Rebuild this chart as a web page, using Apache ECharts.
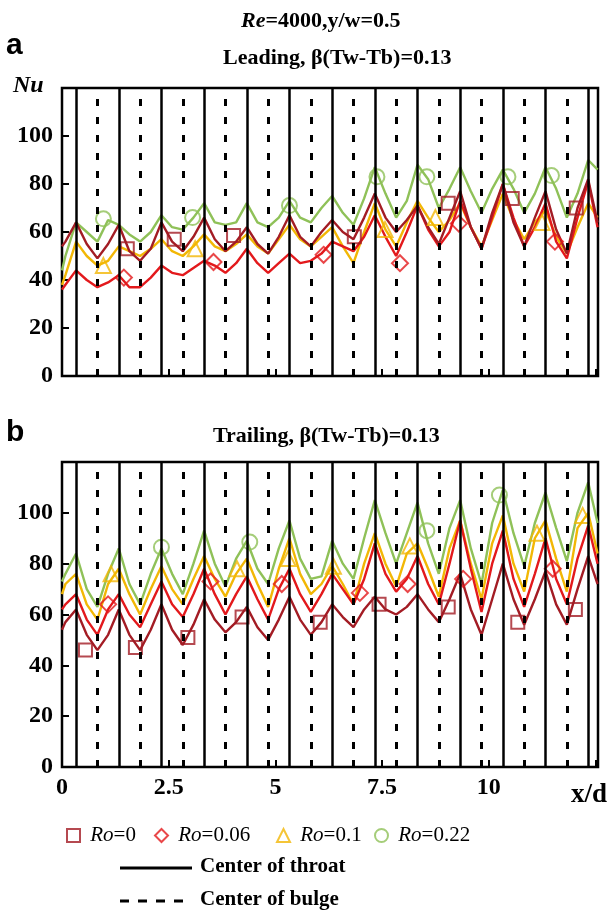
<!DOCTYPE html>
<html><head><meta charset="utf-8">
<script src="https://cdn.jsdelivr.net/npm/echarts@6/dist/echarts.min.js"></script>
<style>html,body{margin:0;padding:0;background:#fff}#c{width:609px;height:916px}</style>
</head><body><div id="c"></div>
<script>
// ---------- DATA ----------
const xPos = [0,0.08,0.33,0.58,0.83,1.08,1.33,1.58,1.83,2.08,2.33,2.58,2.83,3.08,3.33,3.58,3.83,4.08,4.33,4.58,4.83,5.08,5.33,5.58,5.83,6.08,6.33,6.58,6.83,7.08,7.33,7.58,7.83,8.08,8.33,8.58,8.83,9.08,9.33,9.58,9.83,10.08,10.33,10.58,10.83,11.08,11.33,11.58,11.83,12.08,12.33,12.55];

const leadingRo0   = [54,56, 64,55,49,55, 63,52,48,53, 64,56,52,58, 66,57,52,56, 62,55,51,58, 67,58,54,60, 65,60,57,66, 76,66,60,65, 71,62,55,66, 77,62,53,68, 80,64,54,66, 77,61,51,70, 82,64];
const leadingRo006 = [36,38, 44,40,37,39, 42,37,37,41, 46,43,42,45, 48,46,43,47, 53,47,43,47, 51,47,48,51, 56,54,52,58, 67,58,50,60, 71,61,54,60, 73,62,53,66, 80,66,54,62, 72,56,49,66, 81,62];
const leadingRo01  = [38,42, 56,50,46,48, 54,52,50,53, 57,52,50,54, 59,54,52,55, 59,54,51,57, 63,57,54,58, 62,54,47,60, 72,61,54,64, 73,66,60,65, 72,62,54,65, 76,65,57,64, 69,58,51,62, 72,66];
const leadingRo022 = [44,50, 64,60,56,65, 63,59,56,60, 67,62,61,66, 72,64,63,64, 72,64,62,66, 73,66,64,70, 75,68,63,74, 87,76,66,73, 88,82,70,78, 87,77,68,78, 86,78,68,76, 87,78,66,76, 90,86];

const trailingRo0   = [54,57, 62,52,46,52, 62,52,46,54, 64,54,48,56, 66,58,53,57, 63,55,50,58, 67,58,52,57, 64,59,55,62, 67,62,60,63, 68,62,57,66, 76,62,52,66, 80,66,56,66, 77,64,56,70, 83,72];
const trailingRo006 = [62,64, 68,58,52,62, 68,60,55,64, 73,64,59,68, 78,68,60,68, 75,66,58,70, 78,68,61,68, 76,70,64,74, 88,76,69,74, 83,72,64,80, 97,78,61,80, 93,74,63,76, 90,74,64,82, 95,80];
const trailingRo01  = [68,72, 76,64,58,72, 78,68,60,70, 79,70,64,74, 83,74,67,76, 82,72,63,78, 90,76,68,72, 79,72,64,80, 92,80,71,84, 88,78,67,86, 97,80,66,88, 99,80,69,90, 97,82,69,94, 100,84];
const trailingRo022 = [73,76, 84,70,63,76, 86,72,64,76, 86,76,68,80, 93,80,71,82, 89,78,72,86, 97,82,74,75, 89,80,74,90, 105,92,80,92, 104,88,76,94, 105,86,72,96, 109,92,79,96, 108,94,81,100, 112,96];

// sparse symbols
const leadingRo0MarkX   = [1.53, 2.63, 4.02, 6.85, 9.05, 10.55, 12.05];
const leadingRo0MarkY   = [53, 57, 58.5, 58, 72, 74, 70];
const leadingRo006MarkX = [1.45, 3.55, 6.13, 7.92, 9.3, 11.55];
const leadingRo006MarkY = [41, 47.5, 50.5, 47, 63.5, 56];
const leadingRo01MarkX  = [0.97, 3.12, 7.57, 8.75, 11.25];
const leadingRo01MarkY  = [46, 53, 61, 66, 64];
const leadingRo022MarkX = [0.97, 3.06, 5.33, 7.38, 8.55, 10.45, 11.47];
const leadingRo022MarkY = [65.5, 66, 71, 83, 83, 83, 83.5];

const trailingRo0MarkX   = [0.55, 1.72, 2.95, 4.22, 6.05, 7.43, 9.05, 10.68, 12.03];
const trailingRo0MarkY   = [46, 47, 51, 59, 57, 64, 63, 57, 62];
const trailingRo006MarkX = [1.08, 3.48, 5.15, 6.98, 8.1, 9.4, 11.5];
const trailingRo006MarkY = [64, 73, 72, 68.5, 72, 74, 78];
const trailingRo01MarkX  = [1.15, 4.1, 5.3, 6.36, 8.15, 11.13, 12.2];
const trailingRo01MarkY  = [76, 78, 82, 79, 87, 92, 99];
const trailingRo022MarkX = [2.33, 4.4, 8.55, 10.25];
const trailingRo022MarkY = [86.5, 88.5, 93, 107];

const throatX = [0.33,1.33,2.33,3.33,4.33,5.33,6.33,7.33,8.33,9.33,10.33,11.33,12.33];
const bulgeX  = [0.83,1.83,2.83,3.83,4.83,5.83,6.83,7.83,8.83,9.83,10.83,11.83];

const xTickLabels = [0, 2.5, 5, 7.5, 10];
const yTickLabels = [0, 20, 40, 60, 80, 100];
const roNames = ['Ro=0','Ro=0.06','Ro=0.1','Ro=0.22'];

// ---------- STYLE ----------
const serif = '"Liberation Serif","Times New Roman",serif';
const roColors = ['#a31c24','#e3191c','#f2b705','#8fc158'];
const roSymbols = ['rect','diamond','triangle','circle'];
const roSymbolSizes = [13,16,15,15];

const leadingLines  = [leadingRo0, leadingRo006, leadingRo01, leadingRo022];
const trailingLines = [trailingRo0, trailingRo006, trailingRo01, trailingRo022];
const leadingMarks  = [[leadingRo0MarkX,leadingRo0MarkY],[leadingRo006MarkX,leadingRo006MarkY],[leadingRo01MarkX,leadingRo01MarkY],[leadingRo022MarkX,leadingRo022MarkY]];
const trailingMarks = [[trailingRo0MarkX,trailingRo0MarkY],[trailingRo006MarkX,trailingRo006MarkY],[trailingRo01MarkX,trailingRo01MarkY],[trailingRo022MarkX,trailingRo022MarkY]];

const series = [];
[[leadingLines, leadingMarks],[trailingLines, trailingMarks]].forEach(([lines, marks], g) => {
  [3,2,1,0].forEach(r => {
    series.push({
      type:'line', name:'line_'+roNames[r]+'_'+g, xAxisIndex:g, yAxisIndex:g,
      data: xPos.map((x,i)=>[x, lines[r][i]]),
      showSymbol:false, symbol:'none', z:2, silent:true,
      lineStyle:{color:roColors[r], width:2.4}
    });
  });
  [3,2,1,0].forEach(r => {
    series.push({
      type:'scatter', name:roNames[r], xAxisIndex:g, yAxisIndex:g,
      data: marks[r][0].map((x,i)=>[x, marks[r][1][i]]),
      symbol:roSymbols[r], symbolSize:roSymbolSizes[r], z:3, silent:true,
      itemStyle:{color:'rgba(255,255,255,0)', borderColor:roColors[r], borderWidth:2}
    });
  });
  series.push({
    type:'line', name:'_vlines'+g, xAxisIndex:g, yAxisIndex:g, data:[], z:4, silent:true,
    markLine:{silent:true, symbol:['none','none'], animation:false, label:{show:false},
      data: throatX.map(x=>({xAxis:x, lineStyle:{color:'#000', width:2.5, type:'solid'}}))
        .concat(bulgeX.map(x=>({xAxis:x, lineStyle:{color:'#000', width:3, type:[7,11]}})))}
  });
});

const gridTops = [88, 462], gridHeights = [288, 305];
const grids = gridTops.map((t,i)=>({left:62, right:11, top:t, height:gridHeights[i], show:true, borderColor:'#000', borderWidth:2.5, backgroundColor:'transparent'}));

const xAxes = [0,1].map(g=>({
  type:'value', gridIndex:g, min:0, max:12.56, interval:2.5,
  axisLine:{show:false}, splitLine:{show:false},
  axisTick:{show:true, inside:true, length:7, lineStyle:{color:'#000', width:2}},
  axisLabel:{show:g===1, margin:9, color:'#000', fontFamily:serif, fontWeight:'bold', fontSize:24,
    formatter:v=> xTickLabels.indexOf(v)>=0 ? String(v) : ''}
}));
const yAxes = [0,1].map(g=>({
  type:'value', gridIndex:g, min:0, max:120, interval:20,
  axisLine:{show:false}, splitLine:{show:false},
  axisTick:{show:true, inside:true, length:7, lineStyle:{color:'#000', width:2}},
  axisLabel:{margin:9, color:'#000', fontFamily:serif, fontWeight:'bold', fontSize:24,
    formatter:v=> yTickLabels.indexOf(v)>=0 ? String(v) : ''}
}));

const legendLefts = [66, 154, 276, 374];
const legends = roNames.map((n,r)=>({
  data:[{name:n, icon:roSymbols[r], itemStyle:{color:'rgba(255,255,255,0)', borderColor:roColors[r], borderWidth:2}}],
  left:legendLefts[r], top:825, padding:0, itemWidth:13, itemHeight:13, selectedMode:false,
  formatter: name => ' {i|Ro}' + name.slice(2),
  textStyle:{color:'#000', fontFamily:serif, fontSize:21,
    rich:{i:{fontStyle:'italic', fontFamily:serif, fontSize:21, color:'#000'}}}
}));

const titleStyle = {color:'#000', fontFamily:serif, fontWeight:'bold', fontSize:22,
  rich:{i:{fontStyle:'italic', fontWeight:'bold', fontFamily:serif, fontSize:22, color:'#000'}}};

const option = {
  animation:false,
  backgroundColor:'#fff',
  title:[
    {text:'{i|Re}=4000,y/w=0.5', left:241, top:10, padding:0, textStyle:titleStyle},
    {text:'Leading, β(Tw-Tb)=0.13', left:223, top:47, padding:0, textStyle:titleStyle},
    {text:'Trailing, β(Tw-Tb)=0.13', left:213, top:425, padding:0, textStyle:titleStyle}
  ],
  grid:grids, xAxis:xAxes, yAxis:yAxes, legend:legends, series:series,
  graphic:[
    {type:'text', left:6, top:31, style:{text:'a', font:'bold 30px "Liberation Sans", Arial, sans-serif', fill:'#000'}},
    {type:'text', left:6, top:418, style:{text:'b', font:'bold 30px "Liberation Sans", Arial, sans-serif', fill:'#000'}},
    {type:'text', left:13, top:74, style:{text:'Nu', font:'italic bold 24px "Liberation Serif", serif', fill:'#000'}},
    {type:'text', left:571, top:782, style:{text:'x/d', font:'bold 27px "Liberation Serif", serif', fill:'#000'}},
    {type:'line', shape:{x1:120,y1:868,x2:192,y2:868}, style:{stroke:'#000', lineWidth:3}},
    {type:'line', shape:{x1:120,y1:901,x2:190,y2:901}, style:{stroke:'#000', lineWidth:3, lineDash:[9,9]}},
    {type:'text', left:200, top:856, style:{text:'Center of throat', font:'bold 21px "Liberation Serif", serif', fill:'#000'}},
    {type:'text', left:200, top:889, style:{text:'Center of bulge', font:'bold 21px "Liberation Serif", serif', fill:'#000'}}
  ]
};
const chart = echarts.init(document.getElementById('c'));
chart.setOption(option);
</script></body></html>
